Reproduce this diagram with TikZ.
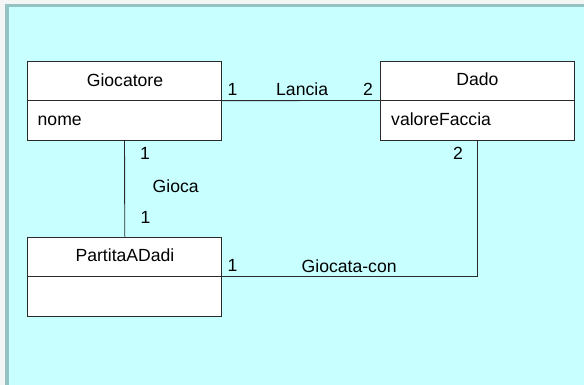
\documentclass[tikz,border=0pt]{standalone}
\usepackage{fontspec}
\setmainfont{Liberation Sans}
\definecolor{paper}{HTML}{F4F6F6}
\definecolor{canvas}{HTML}{C8FFFF}
\definecolor{frame}{HTML}{95C2C2}
\definecolor{ink}{HTML}{2A2A2A}
\tikzset{
  classbox/.style={draw=ink, line width=0.9pt, fill=white, rectangle,
    minimum width=194pt, minimum height=79pt, inner sep=0pt},
  assoc/.style={draw=ink, line width=0.9pt},
  lbl/.style={anchor=base, inner sep=0pt, text=black},
  lblw/.style={anchor=base west, inner sep=0pt, text=black},
}
\begin{document}
\begin{tikzpicture}[x=1pt, y=-1pt,
  every node/.append style={font=\fontsize{17.6}{20}\selectfont}]
  \useasboundingbox (0,0) rectangle (584,385);
  % canvas and its shaded frame
  \fill[paper] (0,0) rectangle (584,385);
  \fill[canvas] (5,4) rectangle (584,385);
  \fill[frame] (5,4) rectangle (584,7.5);
  \fill[frame] (5,4) rectangle (8.5,385);

  % classes
  \node[classbox] (gioc) at (124.5,100.6) {};
  \node[classbox] (dado) at (477.7,100.5) {};
  \node[classbox] (part) at (124.8,276.5) {};
  \draw[assoc] (gioc.west) -- (gioc.east);
  \draw[assoc] (dado.west) -- (dado.east);
  \draw[assoc] (part.west) -- (part.east);

  % class names and attributes
  \node[lbl]  (giocname) at (125,87)  {Giocatore};
  \node[lblw] (giocattr) at (37.5,126) {nome};
  \node[lbl]  (dadoname) at (477.5,86) {Dado};
  \node[lblw] (dadoattr) at (391,126) {valoreFaccia};
  \node[lbl]  (partname) at (125,261.5) {PartitaADadi};

  % associations
  \draw[assoc] (gioc.east) -- (dado.west);
  \draw[assoc] (gioc.south) -- (part.north);
  \draw[assoc] (part.east) -| (dado.south);

  % association names and multiplicities
  \node[lblw] (m1) at (227.5,95.5) {1};
  \node[lblw] (lancia) at (276,95.5) {Lancia};
  \node[lblw] (m2) at (363,95.5) {2};
  \node[lblw] (m3) at (140,159.5) {1};
  \node[lblw] (gioca) at (152.5,193) {Gioca};
  \node[lblw] (m4) at (140.5,223) {1};
  \node[lblw] (m5) at (453,160) {2};
  \node[lblw] (m6) at (227.5,271.5) {1};
  \node[lblw] (giocon) at (301.5,272) {Giocata-con};
\end{tikzpicture}
\end{document}
